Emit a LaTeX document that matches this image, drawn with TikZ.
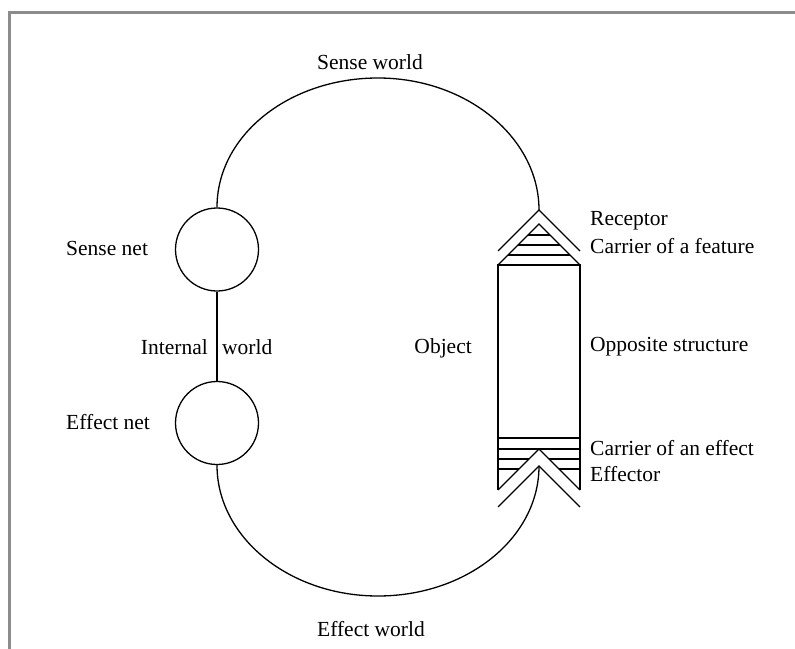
\documentclass[tikz,border=0pt]{standalone}
\usepackage{fontspec}
\setmainfont{Liberation Serif}
\begin{document}
\begin{tikzpicture}[x=1bp,y=-1bp,
  every node/.style={font=\fontsize{21.5bp}{25bp}\selectfont, inner sep=0pt},
  ink/.style={draw=black, line width=1.3bp},
  netcircle/.style={ink, circle, minimum size=83bp},
  label/.style={anchor=west},
  frameline/.style={draw=black!45, line width=3bp}]
  \useasboundingbox (0,0) rectangle (795,649);
  % page frame
  \draw[frameline] (9,649) -- (9,13) -- (795,13);

  % nets of the subject
  \node[netcircle] (sensenet) at (217,249.5) {};
  \node[netcircle] (effectnet) at (217,423) {};
  \draw[ink] (sensenet.south) -- (effectnet.north);

  % object: receptor, body, effector
  \coordinate (rapex) at (539,210);
  \coordinate (eapex) at (539,466);
  \draw[ink] (498,251) -- (rapex) -- (580,251);
  \draw[ink] (498,265) -- (539,224) -- (580,265);
  \draw[ink] (528,235) -- (550,235);
  \draw[ink] (518,245) -- (560,245);
  \draw[ink] (508,255) -- (570,255);
  \draw[ink] (498,490) -- (498,265) -- (580,265) -- (580,490);
  \draw[ink] (498,438) -- (580,438);
  \draw[ink] (498,449) -- (580,449);
  \draw[ink] (498,459) -- (529,459) (549,459) -- (580,459);
  \draw[ink] (498,469) -- (519,469) (559,469) -- (580,469);
  \draw[ink] (498,490) -- (539,449) -- (580,490);
  \draw[ink] (498,507) -- (eapex) -- (580,507);

  % sense world and effect world
  \coordinate (sensetop) at (378,78);
  \coordinate (effectbottom) at (378,596);
  \draw[ink] (sensenet.north) .. controls +(0,-72) and +(-89,0) .. (sensetop)
             .. controls +(89,0) and +(0,-72) .. (rapex);
  \draw[ink] (effectnet.south) .. controls +(0,72) and +(-89,0) .. (effectbottom)
             .. controls +(89,0) and +(0,72) .. (eapex);

  % labels
  \node (tsenseworld) at (370,62) {Sense world};
  \node (teffectworld) at (371,629) {Effect world};
  \node[label] (tsensenet) at (66,248) {Sense net};
  \node[label] (teffectnet) at (66,422) {Effect net};
  \node[anchor=east] (tinternal) at (208,347) {Internal};
  \node[label] (tworld) at (222,347) {world};
  \node[anchor=east] (tobject) at (472,348) {Object};
  \node[label] (treceptor) at (590,221) {Receptor};
  \node[label] (tfeature) at (590,246) {Carrier of a feature};
  \node[label] (topposite) at (590,347) {Opposite structure};
  \node[label] (teffect) at (590,448) {Carrier of an effect};
  \node[label] (teffector) at (590,474) {Effector};
\end{tikzpicture}
\end{document}
